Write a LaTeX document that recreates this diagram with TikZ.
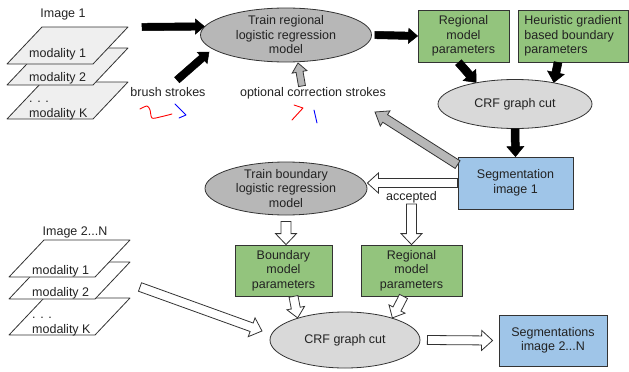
\documentclass[tikz,border=0pt]{standalone}
\usepackage{fontspec}
\setmainfont{Liberation Sans}
\usepackage{xcolor}
\usetikzlibrary{positioning, calc, shapes.geometric}

\definecolor{boxgreen}{HTML}{93C47D}
\definecolor{boxblue}{HTML}{9FC5E8}
\definecolor{ellgray}{HTML}{B7B7B7}
\definecolor{elllight}{HTML}{D9D9D9}
\definecolor{sheetfill}{HTML}{EFEFEF}
\definecolor{edge}{HTML}{333333}
\definecolor{txt}{HTML}{222222}

% block arrow: [style]{from}{to}{shaft half width}{head half width}{head length}
\newcommand{\blockarrow}[6][]{%
  \draw[#1] let \p1=($(#3)-(#2)$), \n1={atan2(\y1,\x1)}, \n2={veclen(\x1,\y1)} in
    [shift={(#2)}, rotate=\n1]
    (0pt,-#4) -- ({\n2-#6},-#4) -- ({\n2-#6},-#5) -- (\n2,0pt)
    -- ({\n2-#6},#5) -- ({\n2-#6},#4) -- (0pt,#4) -- cycle;}

% one image plane: {fill}{left x}{bottom y}
\newcommand{\sheet}[3]{%
  \draw[sheet, fill=#1] (#2,#3) -- (#2+86,#3) -- (#2+121,#3-37) -- (#2+35,#3-37) -- cycle;}

\begin{document}
\begin{tikzpicture}[x=1pt, y=-1pt,
    every node/.style={font=\fontsize{12.5}{14.5}\selectfont, text=txt},
    sheet/.style={draw=edge, line width=0.8pt, line join=round},
    lbl/.style={anchor=base west, inner sep=0pt},
    gbox/.style={draw=edge, line width=0.8pt, fill=boxgreen, align=center, inner sep=0pt, minimum height=52pt},
    bbox/.style={draw=edge, line width=0.8pt, fill=boxblue, align=center, inner sep=0pt, minimum height=52pt},
    ell/.style={ellipse, draw=edge, line width=0.8pt, align=center, inner xsep=0pt, inner ysep=-2pt},
    blk/.style={draw=black, fill=black, line width=0.5pt},
    wht/.style={draw=edge, fill=white, line width=0.8pt},
    gry/.style={draw=edge, fill=ellgray, line width=0.8pt},
    stroke/.style={line width=0.9pt, line cap=round, line join=round}]
    \useasboundingbox (0,0) rectangle (629,372);

    % image 1
    \node (img1) at (63,14) {Image 1};
    \sheet{sheetfill}{7}{119}
    \node[lbl] (s1k) at (29,117) {modality K};
    \node[lbl] (s1d) at (29,102) {. . .};
    \sheet{sheetfill}{7}{85}
    \node[lbl] (s12) at (29,81) {modality 2};
    \sheet{sheetfill}{7}{64}
    \node[lbl] (s11) at (29,57) {modality 1};

    % images 2..N
    \node (img2) at (75,232) {Image 2...N};
    \sheet{white}{9}{335}
    \node[lbl] (s2k) at (32,333) {modality K};
    \node[lbl] (s2d) at (32,318) {. . .};
    \sheet{white}{9}{299}
    \node[lbl] (s22) at (32,296) {modality 2};
    \sheet{white}{9}{277}
    \node[lbl] (s21) at (32,274) {modality 1};

    % models and results
    \node[ell, fill=ellgray, minimum width=171pt, minimum height=54pt] (trainR) at (286,35) {Train regional\\logistic regression\\model};
    \node[gbox, minimum width=91pt] (regA) at (463.5,36) {Regional\\model\\parameters};
    \node[gbox, minimum width=110pt, align=left] (heur) at (573,36) {Heuristic gradient\\based boundary\\parameters};
    \node[ell, fill=elllight, minimum width=154pt, minimum height=49pt] (crfA) at (515,104) {CRF graph cut};
    \node[bbox, minimum width=115pt] (segA) at (515.5,183) {Segmentation\\image 1};
    \node[ell, fill=ellgray, minimum width=162pt, minimum height=53pt] (trainB) at (286,188.5) {Train boundary\\logistic regression\\model};
    \node[inner sep=1pt] (acc) at (411.5,197) {accepted};
    \node[gbox, minimum width=97pt, minimum height=51pt] (bnd) at (283.5,270.5) {Boundary\\model\\parameters};
    \node[gbox, minimum width=101pt, minimum height=51pt] (regB) at (411.5,270.5) {Regional\\model\\parameters};
    \node[ell, fill=elllight, minimum width=150pt, minimum height=56pt] (crfB) at (345,340) {CRF graph cut};
    \node[bbox, minimum width=108pt, minimum height=51pt] (segB) at (553,340.5) {Segmentations\\image 2...N};

    % strokes
    \node (brush) at (168,92) {brush strokes};
    \node (optc) at (313,93) {optional correction strokes};
    \draw[stroke, red] plot[smooth, tension=0.5] coordinates {(140,109) (147,106) (150,110) (152,118) (160,117) (172,114)};
    \draw[stroke, blue] (175,104) -- (186,115) -- (179,118);
    \draw[stroke, red] (294,105) -- (303,108) -- (292,120);
    \draw[stroke, blue] (314,110) -- (317,123);

    % arrow ends
    \coordinate (a1s) at (142,27);
    \coordinate (a2s) at (177,80);
    \coordinate (a2e) at (209,52);
    \coordinate (a3s) at (302,86);
    \coordinate (a3e) at (298,63);
    \coordinate (a4s) at ([xshift=3pt]trainR.east);
    \coordinate (a5s) at ([xshift=-5pt]regA.south);
    \coordinate (a6s) at ([xshift=-15pt]heur.south);
    \coordinate (a8s) at ([yshift=-8pt]segA.north west);
    \coordinate (a8e) at (375,112);
    \coordinate (a9e) at (trainB.east |- segA.west);
    \coordinate (a10s) at ([yshift=-6pt]trainB.south);
    \coordinate (a10e) at (trainB.south |- bnd.north);
    \coordinate (a11s) at ([xshift=10pt]bnd.south);
    \coordinate (a12s) at ([xshift=-8pt]regB.south);
    \coordinate (a13s) at (140,287);
    \coordinate (a13e) at (262,331);
    \coordinate (a14s) at ([xshift=7pt]crfB.east);
    \coordinate (a14e) at ([xshift=-6pt]segB.west);

    % arrows
    \blockarrow[blk]{a1s}{trainR.174}{3.7pt}{7.5pt}{9pt}
    \blockarrow[blk]{a2s}{a2e}{3.7pt}{7.5pt}{9pt}
    \blockarrow[gry]{a3s}{a3e}{3.5pt}{7.5pt}{9pt}
    \blockarrow[blk]{a4s}{regA.west}{3.7pt}{7.5pt}{9pt}
    \blockarrow[blk]{a5s}{crfA.151}{4pt}{8.5pt}{10pt}
    \blockarrow[blk]{a6s}{crfA.29}{4pt}{8.5pt}{10pt}
    \blockarrow[blk]{crfA.south}{segA.north}{4pt}{8.5pt}{10pt}
    \blockarrow[gry]{a8s}{a8e}{4.5pt}{9pt}{12pt}
    \blockarrow[wht]{segA.west}{a9e}{4.5pt}{10pt}{11pt}
    \blockarrow[wht]{acc.south}{regB.north}{5pt}{10.5pt}{11pt}
    \blockarrow[wht]{a10s}{a10e}{5pt}{10.5pt}{11pt}
    \blockarrow[wht]{a11s}{crfB.155}{4.5pt}{9pt}{10pt}
    \blockarrow[wht]{a12s}{crfB.25}{4.5pt}{9pt}{10pt}
    \blockarrow[wht]{a13s}{a13e}{4.5pt}{10pt}{11pt}
    \blockarrow[wht]{a14s}{a14e}{4.5pt}{10pt}{11pt}
\end{tikzpicture}
\end{document}
